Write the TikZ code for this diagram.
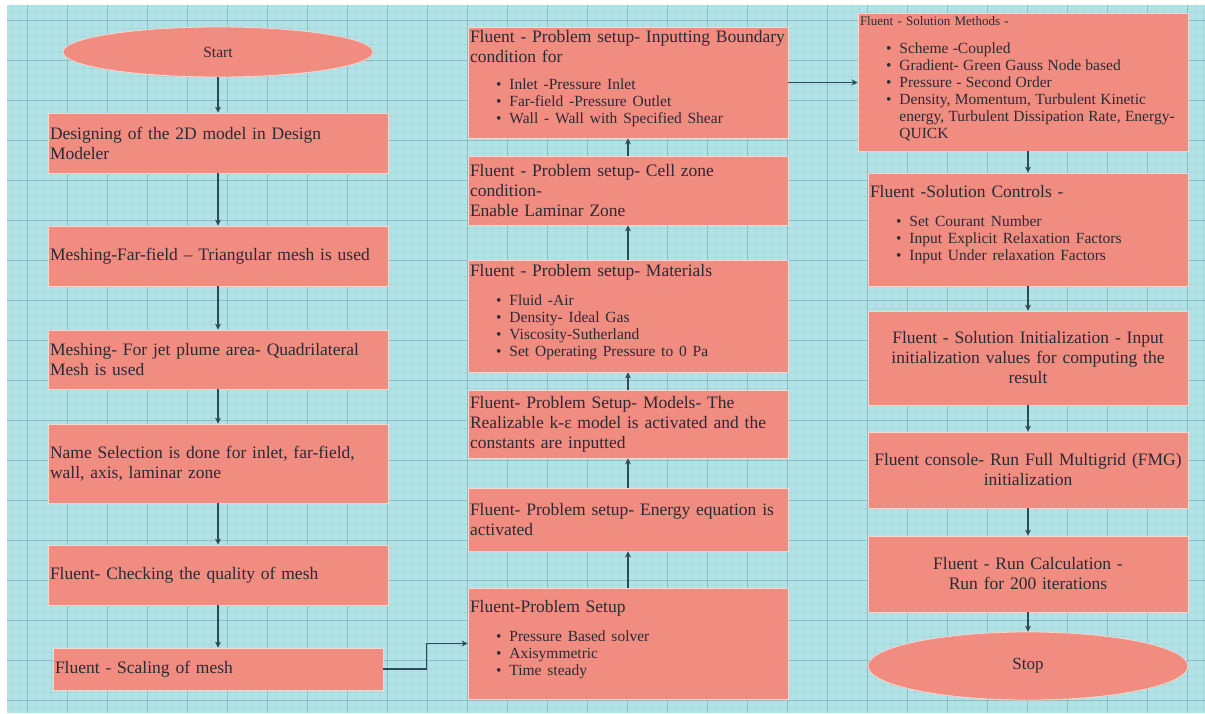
\documentclass[tikz,border=0pt]{standalone}
\usepackage{fontspec}
\setmainfont{Liberation Serif}
\usetikzlibrary{arrows.meta,shapes.geometric}
\definecolor{sheet}{HTML}{B0E2E6}
\definecolor{fine}{HTML}{A6D7DB}
\definecolor{coarse}{HTML}{8DBEC4}
\definecolor{salmon}{HTML}{F08C80}
\definecolor{rim}{HTML}{F7D4CC}
\definecolor{ink}{HTML}{2B2B36}
\definecolor{wire}{HTML}{2F4A57}
\hyphenpenalty=10000
\exhyphenpenalty=10000
\lineskiplimit=-20pt
\newcommand{\itm}[1]{\hspace*{26pt}\textbullet\hspace{8pt}#1}
\newcommand{\hng}[1]{\hspace*{26pt}\phantom{\textbullet}\hspace{8pt}#1}
\newcommand{\lst}[1][10pt]{\par\vspace{#1}\fontsize{15.5}{17}\selectfont}
\newcommand{\pad}[1]{\par\vspace*{#1}}
\begin{document}
\begin{tikzpicture}[x=1pt,y=-1pt,
	box/.style={draw=rim,line width=0.8pt,fill=salmon,text=ink,
		inner xsep=2pt,inner ysep=0pt,align=left,
		font=\fontsize{17.5}{20}\selectfont},
	colA/.style={minimum width=340pt,text width=336pt},
	colB/.style={minimum width=320pt,text width=316pt},
	term/.style={ellipse,draw=rim,line width=0.8pt,fill=salmon,text=ink,
		inner sep=0pt,font=\fontsize{15.5}{18}\selectfont},
	link/.style={draw=wire,line width=1.1pt,-{Stealth[length=6pt,width=6pt]}}]
\useasboundingbox (0,0) rectangle (1205,713);
% grid paper
\fill[sheet] (7,5) rectangle (1205,713);
\foreach \gx in {11,19,...,1203}
	\draw[fine,line width=0.4pt] (\gx,5) -- (\gx,713);
\foreach \gy in {12,20,...,708}
	\draw[fine,line width=0.4pt] (7,\gy) -- (1205,\gy);
\foreach \gx in {27,67,...,1187}
	\draw[coarse,line width=0.9pt] (\gx,5) -- (\gx,713);
\foreach \gy in {20,60,...,700}
	\draw[coarse,line width=0.9pt] (7,\gy) -- (1205,\gy);

% meshing column
\node[term,minimum width=310pt,minimum height=50pt] (start) at (218,52) {Start};
\node[box,colA,minimum height=60pt] (b1) at (218,143)
	{Designing of the 2D model in Design\\Modeler};
\node[box,colA,minimum height=60pt] (b2) at (218,256)
	{Meshing-Far-field -- Triangular mesh is used};
\node[box,colA,minimum height=59pt] (b3) at (218,359.5)
	{Meshing- For jet plume area- Quadrilateral\\Mesh is used};
\node[box,colA,minimum height=79pt] (b4) at (218,463.5)
	{Name Selection is done for inlet, far-field,\\wall, axis, laminar zone};
\node[box,colA,minimum height=60pt] (b5) at (218,575)
	{Fluent- Checking the quality of mesh};
\node[box,minimum width=330pt,text width=326pt,minimum height=42pt] (b6) at (218,669)
	{Fluent - Scaling of mesh};

% problem setup column
\node[box,colB,minimum height=111pt] (p1) at (628,643.5)
	{Fluent-Problem Setup\lst[12pt]
	\itm{Pressure Based solver}\\
	\itm{Axisymmetric}\\
	\itm{Time steady}\pad{8pt}};
\node[box,colB,minimum height=63pt] (p2) at (628,519.5)
	{Fluent- Problem setup- Energy equation is\\activated};
\node[box,colB,minimum height=68pt] (p3) at (628,424)
	{Fluent- Problem Setup- Models- The\\Realizable k-ε model is activated and the\\constants are inputted};
\node[box,colB,minimum height=112pt] (p4) at (628,316)
	{Fluent - Problem setup- Materials\lst[12pt]
	\itm{Fluid -Air}\\
	\itm{Density- Ideal Gas}\\
	\itm{Viscosity-Sutherland}\\
	\itm{Set Operating Pressure to 0 Pa}\pad{8pt}};
\node[box,colB,minimum height=69pt] (p5) at (628,190.5)
	{Fluent - Problem setup- Cell zone\\condition-\\Enable Laminar Zone};
\node[box,colB,minimum height=111pt] (p6) at (628,82.5)
	{Fluent - Problem setup- Inputting Boundary\\condition for\lst
	\itm{Inlet -Pressure Inlet}\\
	\itm{Far-field -Pressure Outlet}\\
	\itm{Wall - Wall with Specified Shear}\pad{8pt}};

% solution column
\node[box,minimum width=330pt,text width=326pt,minimum height=138pt,
	font=\fontsize{13}{15}\selectfont] (s1) at (1023,82)
	{Fluent - Solution Methods -\lst[11pt]
	\itm{Scheme -Coupled}\\
	\itm{Gradient- Green Gauss Node based}\\
	\itm{Pressure - Second Order}\\
	\itm{Density, Momentum, Turbulent Kinetic}\\
	\hng{energy, Turbulent Dissipation Rate, Energy-}\\
	\hng{QUICK}\pad{6pt}};
\node[box,colB,minimum height=113pt] (s2) at (1028,229.5)
	{Fluent -Solution Controls -\lst[12pt]
	\itm{Set Courant Number}\\
	\itm{Input Explicit Relaxation Factors}\\
	\itm{Input Under relaxation Factors}\pad{10pt}};
\node[box,colB,align=center,minimum height=94pt] (s3) at (1028,358)
	{Fluent - Solution Initialization - Input\\initialization values for computing the\\result};
\node[box,colB,align=center,minimum height=76pt] (s4) at (1028,470)
	{Fluent console- Run Full Multigrid (FMG)\\initialization};
\node[box,colB,align=center,minimum height=76pt] (s5) at (1028,574)
	{Fluent - Run Calculation -\\Run for 200 iterations};
\node[term,minimum width=320pt,minimum height=68pt,font=\fontsize{17}{19}\selectfont] (stop) at (1028,666) {Stop};

% connectors
\draw[link] (start) -- (b1);
\draw[link] (b1) -- (b2);
\draw[link] (b2) -- (b3);
\draw[link] (b3) -- (b4);
\draw[link] (b4) -- (b5);
\draw[link] (b5) -- (b6);
\draw[link] (b6.east) -- ++(43,0) |- (p1.west);
\draw[link] (p1) -- (p2);
\draw[link] (p2) -- (p3);
\draw[link] (p3) -- (p4);
\draw[link] (p4) -- (p5);
\draw[link] (p5) -- (p6);
\draw[link] (p6.east) -- (p6.east -| s1.west);
\draw[link] (s1.south -| s2.north) -- (s2.north);
\draw[link] (s2) -- (s3);
\draw[link] (s3) -- (s4);
\draw[link] (s4) -- (s5);
\draw[link] (s5) -- (stop);
\end{tikzpicture}
\end{document}
